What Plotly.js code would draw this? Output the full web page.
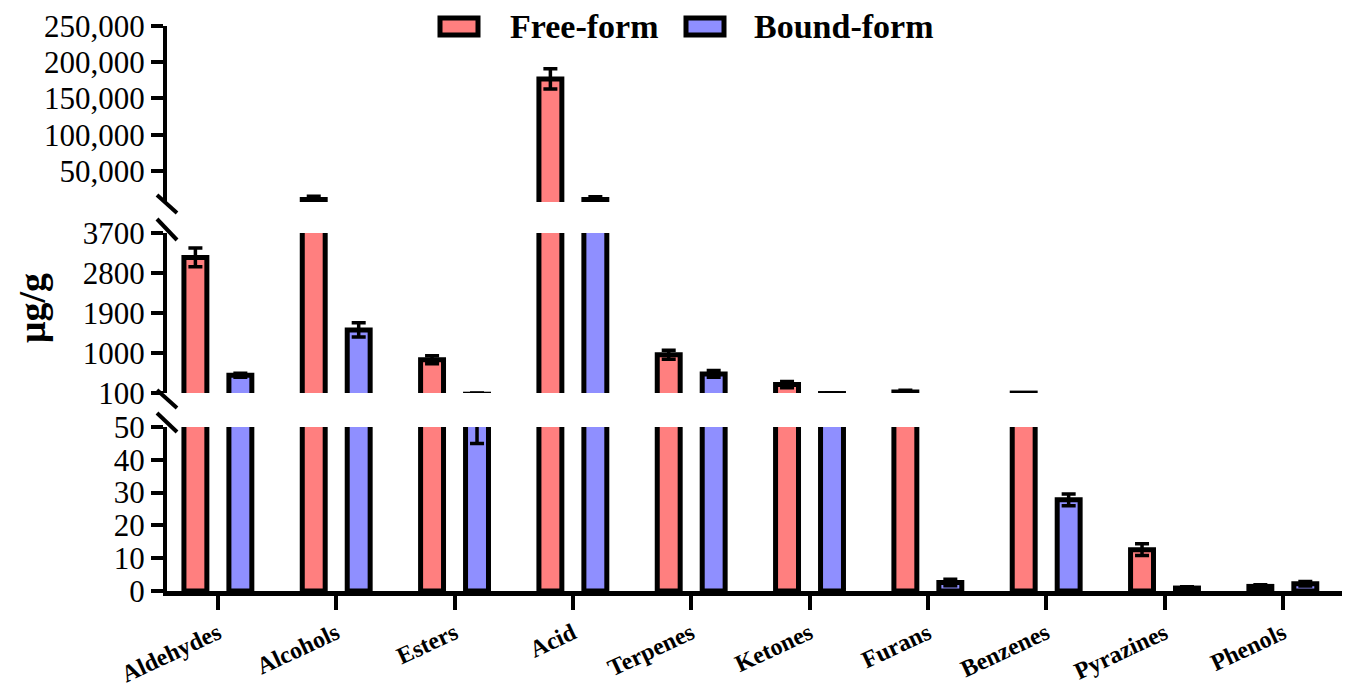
<!DOCTYPE html>
<html><head><meta charset="utf-8">
<script src="https://cdn.plot.ly/plotly-3.0.1.min.js"></script>
<style>html,body{margin:0;padding:0;background:#fff}#chart{width:1346px;height:691px}</style>
</head><body><div id="chart"></div>
<script>
const categories = ['Aldehydes','Alcohols','Esters','Acid','Terpenes','Ketones','Furans','Benzenes','Pyrazines','Phenols'];
const freeForm  = [3150, 10500, 850, 177000, 960, 290, 120, 98, 12.6, 1.4];
const freeErr   = [210, 4500, 90, 14000, 100, 70, 40, 5, 1.8, 0.5];
const boundForm = [500, 1520, 73, 10500, 530, 88, 2.6, 27.8, 0.9, 2.2];
const boundErr  = [45, 160, 28, 4000, 75, 13, 1, 1.8, 0.4, 0.7];
const seriesNames = ['Free-form','Bound-form'];
const lowTicks = [0,10,20,30,40,50];
const midTicks = [100,1000,1900,2800,3700];
const topTicks = [50000,100000,150000,200000,250000];
const topTickText = ['50,000','100,000','150,000','200,000','250,000'];

const W = 1346, H = 691, ML = 167, MR = 4, MT = 26, MB = 100;
const PW = W - ML - MR, PH = H - MT - MB;
const px = x => (x - ML) / PW;
const py = y => (H - MB - y) / PH;

const serif = '"Liberation Serif","Times New Roman",serif';
const colors = ['#FF7F7F', '#8F8FFF'];
const vals = [freeForm, boundForm];
const errs = [freeErr, boundErr];
const yaxes = ['y', 'y2', 'y3'];

const traces = [];
yaxes.forEach((ya, k) => {
  for (let s = 0; s < 2; s++) {
    traces.push({
      type: 'bar', x: categories, y: vals[s], name: seriesNames[s],
      xaxis: 'x', yaxis: ya, showlegend: false,
      marker: {color: colors[s], line: {color: '#000', width: 5}},
      error_y: {type: 'data', array: errs[s], visible: true, color: '#000', thickness: 3.5, width: 7},
      hoverinfo: 'x+y'
    });
  }
});

const yCommon = {
  showline: true, linecolor: '#000', linewidth: 4, ticks: 'outside', ticklen: 12, tickwidth: 4,
  tickcolor: '#000', showgrid: false, zeroline: false, anchor: 'x', fixedrange: true,
  tickfont: {family: serif, size: 31, color: '#000'}, tickmode: 'array'
};

const brk = (x0, y0, x1, y1) => ({type: 'line', xref: 'paper', yref: 'paper',
  x0: px(x0), y0: py(y0), x1: px(x1), y1: py(y1), line: {color: '#000', width: 4}});

// legend (drawn as swatches + text)
const legendSwatchX = [440, 686];
const legendTextX = [508, 752];
const legendShapes = seriesNames.map((n, i) => ({type: 'rect', xref: 'paper', yref: 'paper',
  x0: px(legendSwatchX[i]), x1: px(legendSwatchX[i] + 38), y0: py(35), y1: py(18),
  fillcolor: colors[i], line: {color: '#000', width: 5}}));
const legendTexts = seriesNames.map((n, i) => ({text: n, xref: 'paper', yref: 'paper',
  x: px(legendTextX[i]), y: py(27), xanchor: 'left', yanchor: 'middle', showarrow: false,
  font: {family: serif, size: 34, color: '#000', weight: 'bold'}}));

const layout = {
  width: W, height: H, margin: {l: ML, r: MR, t: MT, b: MB},
  paper_bgcolor: '#fff', plot_bgcolor: 'rgba(0,0,0,0)',
  barmode: 'group', bargap: 0.24, bargroupgap: 0.49,
  showlegend: false,
  xaxis: {type: 'category', range: [-0.43, 9.5], showline: true, linecolor: '#000', linewidth: 5,
    ticks: 'outside', ticklen: 14, tickwidth: 4, tickcolor: '#000', showgrid: false, zeroline: false,
    tickangle: -25, tickfont: {family: serif, size: 24, color: '#000', weight: 'bold'}, anchor: 'y', fixedrange: true},
  yaxis: Object.assign({}, yCommon, {domain: [0, py(427)], range: [0, 50], tickvals: lowTicks}),
  yaxis2: Object.assign({}, yCommon, {domain: [py(393), py(233)], range: [100, 3700], tickvals: midTicks}),
  yaxis3: Object.assign({}, yCommon, {domain: [py(202), 1], range: [7200, 250000], tickvals: topTicks, ticktext: topTickText}),
  shapes: [brk(157, 195, 177, 213), brk(157, 219, 177, 240), brk(157, 390, 177, 408), brk(157, 413, 177, 432)].concat(legendShapes),
  annotations: [{text: 'μg/g', xref: 'paper', yref: 'paper', x: px(32), y: py(308), showarrow: false,
    textangle: -90, font: {family: serif, size: 38, color: '#000', weight: 'bold'}, xanchor: 'center', yanchor: 'middle'}].concat(legendTexts)
};

Plotly.newPlot('chart', traces, layout, {displayModeBar: false, staticPlot: true});
</script></body></html>
